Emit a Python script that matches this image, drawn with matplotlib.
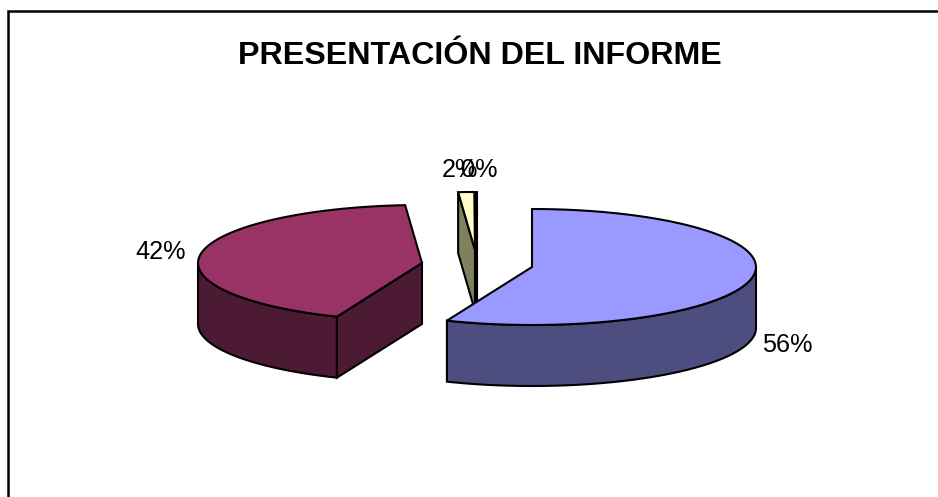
import numpy as np
import matplotlib
matplotlib.use('Agg')
import matplotlib.pyplot as plt
from matplotlib.patches import Polygon, Rectangle

plt.rcParams['font.family'] = ['Liberation Sans', 'DejaVu Sans']

title = 'PRESENTACIÓN DEL INFORME'
shares = [56.2, 42.6, 1.15, 0.05]
labels = ['56%', '42%', '2%', '0%']
top_colors = ['#9999FF', '#993366', '#FFFFCC', '#CCFFFF']
side_colors = ['#4D4D80', '#4D1A33', '#80805F', '#668080']

# pie centres after the explode, in pixels
centers = [(532, 267), (422, 263), (475, 250), (477, 250)]
label_pos = [(787, 345), (161, 252), (460, 170), (479, 170)]
RX, RY, DEPTH = 224, 58, 61


def rim(c, a0, a1, n=80):
    t = np.radians(np.linspace(a0, a1, n))
    return np.column_stack([c[0] + RX * np.sin(t), c[1] - RY * np.cos(t)])


def draw_slice(ax, c, a0, a1, top, side, z):
    down = np.array([0, DEPTH])
    # outer wall, only the part facing the viewer
    lo, hi = max(a0, 90), min(a1, 270)
    if lo < hi:
        r = rim(c, lo, hi)
        ax.add_patch(Polygon(np.vstack([r, r[::-1] + down]), fc=side, ec='black', lw=1.5, zorder=z))
    # cut face on the start edge
    if 180 < a0 < 360:
        e = rim(c, a0, a0, 1)[0]
        pts = [e, c, np.array(c) + down, e + down]
        ax.add_patch(Polygon(pts, fc=side, ec='black', lw=1.5, zorder=z))
    r = rim(c, a0, a1)
    ax.add_patch(Polygon(np.vstack([[c], r]), fc=top, ec='black', lw=1.5, joinstyle='miter', zorder=z))


fig = plt.figure(figsize=(9.38, 4.97), dpi=100)
ax = fig.add_axes([0, 0, 1, 1])
ax.set_xlim(0, 938)
ax.set_ylim(497, 0)
ax.axis('off')

# chart border runs off the right and bottom of the crop
ax.add_patch(Rectangle((8, 11), 960, 520, fc='white', ec='black', lw=1.8, zorder=0))

ends = np.cumsum(shares) * 3.6
starts = np.concatenate([[0], ends[:-1]])
order = [3, 2, 1, 0]
for z, i in enumerate(order):
    draw_slice(ax, centers[i], starts[i], ends[i], top_colors[i], side_colors[i], z + 1)

for s, p in zip(labels, label_pos):
    ax.text(p[0], p[1], s, ha='center', va='center', fontsize=18.2, color='black', zorder=10)

ax.text(479.5, 56, title, ha='center', va='center', fontsize=23.2, fontweight='bold', color='black', zorder=10)

fig.savefig('out.png', dpi=100)
